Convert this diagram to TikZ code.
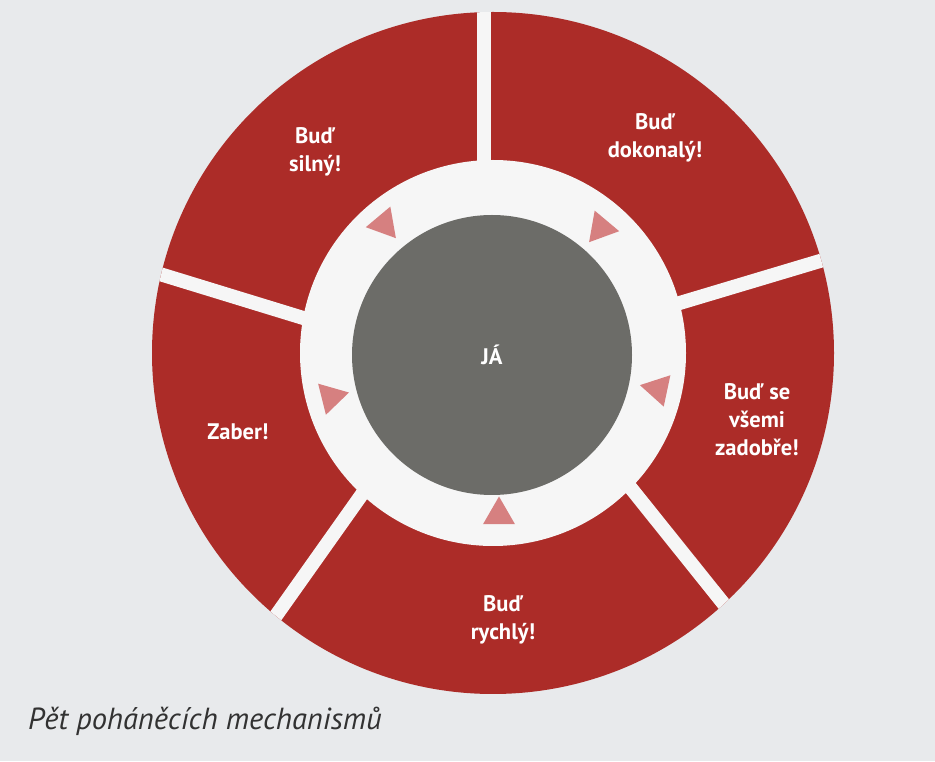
\documentclass[tikz,border=0pt]{standalone}
\usepackage{fontspec}
\setmainfont{PT Sans}
\usetikzlibrary{shapes.geometric,calc}
\definecolor{paper}{RGB}{232,234,236}
\definecolor{gapwhite}{RGB}{246,246,246}
\definecolor{ringred}{RGB}{172,44,40}
\definecolor{coregray}{RGB}{108,108,104}
\definecolor{tripink}{RGB}{214,128,128}
\definecolor{captiongray}{RGB}{50,50,50}
\tikzset{
  gapline/.style={draw=gapwhite, line width=14pt},
  label/.style={text=white, font=\fontsize{22.5}{28}\selectfont\bfseries, align=center, inner sep=0pt},
  tri/.style={regular polygon, regular polygon sides=3, fill=tripink, minimum size=37pt, inner sep=0pt, shape border rotate=#1},
}
\begin{document}
\begin{tikzpicture}[x=1pt,y=1pt]
\fill[paper] (0,0) rectangle (935,761);
\useasboundingbox (0,0) rectangle (935,761);
\coordinate (c) at (493,408);
\fill[ringred] (c) circle[radius=341];
% gap lines (inner point, outer point)
\coordinate (g1a) at (484,560); \coordinate (g1b) at (484,761);
\coordinate (g2a) at (683,459); \coordinate (g2b) at (830,503);
\coordinate (g3a) at (630,274); \coordinate (g3b) at (723,158);
\coordinate (g4a) at (365,271); \coordinate (g4b) at (280,151);
\coordinate (g5a) at (300,444); \coordinate (g5b) at (163,486);
\begin{scope}
  \clip (c) circle[radius=341];
  \foreach \g in {g1,g2,g3,g4,g5}
    \draw[gapline] ($(\g a)!-0.6!(\g b)$) -- ($(\g a)!1.8!(\g b)$);
\end{scope}
\fill[gapwhite] (c) circle[radius=193];
\node[circle, fill=coregray, minimum size=280pt, inner sep=0pt, text=white, font=\fontsize{22.5}{28}\selectfont\bfseries] (ja) at (492,406) {JÁ};
\node[tri=-140] (t1) at (384,537) {};
\node[tri=140] (t2) at (601,533) {};
\node[tri=78] (t3) at (658,372) {};
\node[tri=0] (t4) at (499,246) {};
\node[tri=-76] (t5) at (331,364) {};
\node[label] (silny) at (315,609) {Buď\\silný!};
\node[label] (dokonaly) at (655,623) {Buď\\dokonalý!};
\node[label] (zadobre) at (757,341) {Buď se\\všemi\\zadobře!};
\node[label] (zaber) at (238,329) {Zaber!};
\node[label] (rychly) at (503,141) {Buď\\rychlý!};
\node[anchor=base west, inner sep=0pt, text=captiongray, font=\fontsize{30.5}{34}\selectfont\itshape] (caption) at (28,32) {Pět poháněcích mechanismů};
\end{tikzpicture}
\end{document}
